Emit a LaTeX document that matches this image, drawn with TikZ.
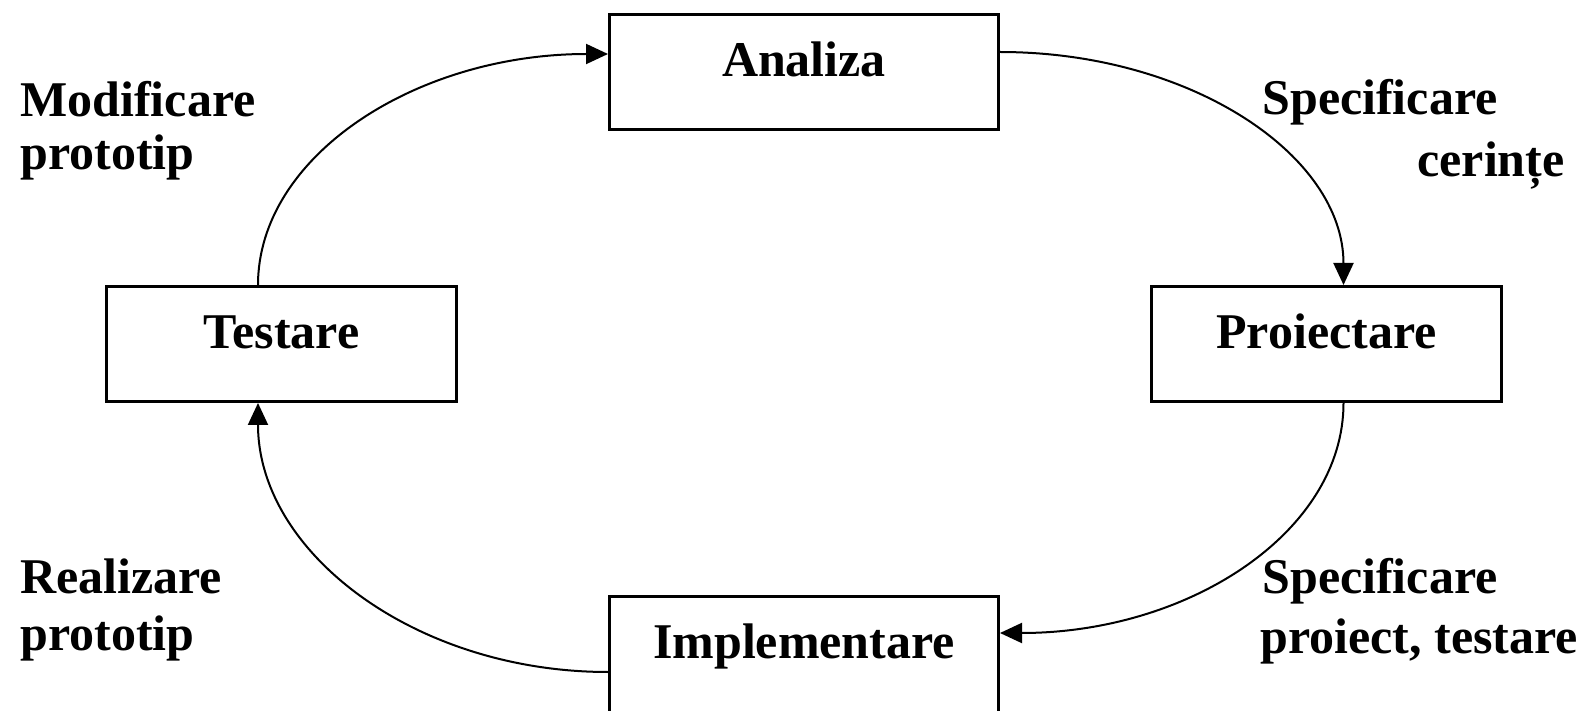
\documentclass[tikz,border=0pt]{standalone}
\usepackage{fontspec}
\setmainfont{Liberation Serif}
\usetikzlibrary{arrows.meta}

\begin{document}
\begin{tikzpicture}[x=0.5pt, y=-0.5pt,
  every node/.style={font=\fontsize{25}{30}\selectfont\bfseries},
  phase/.style={draw=black, line width=1.5pt, inner sep=0pt, anchor=north west,
    text height=31pt, text depth=26.5pt},
  widephase/.style={phase, minimum width=194.5pt},
  narrowphase/.style={phase, minimum width=175pt},
  flow/.style={line width=1pt, -{Triangle[length=11pt, width=10pt]}},
  note/.style={anchor=base west, inner sep=0pt}
]
  % canvas
  \useasboundingbox (0,0) rectangle (1592,711);
  \fill[white] (0,0) rectangle (1592,711);
  \clip (0,0) rectangle (1592,711);

  % the four phases of the cycle
  \node[widephase]   (ana) at (608,13)  {Analiza};
  \node[narrowphase] (tes) at (105,285) {Testare};
  \node[narrowphase] (pro) at (1150,285) {Proiectare};
  \node[widephase, text depth=33pt] (imp) at (608,595) {Implementare};

  % labels beside the transitions
  \node[note] (m1) at (20,117)   {Modificare};
  \node[note] (m2) at (20,170)   {prototip};
  \node[note] (s1) at (1262,115) {Specificare};
  \node[note] (s2) at (1417,177) {cerințe};
  \node[note] (r1) at (20,593)   {Realizare};
  \node[note] (r2) at (20,650)   {prototip};
  \node[note] (p1) at (1262,593) {Specificare};
  \node[note] (p2) at (1260,653) {proiect, testare};

  % attachment points on the boxes
  \coordinate (anaOut) at ([yshift=10pt]ana.east);
  \coordinate (anaIn)  at ([yshift=9pt]ana.west);
  \coordinate (proIn)  at ([xshift=8.5pt]pro.north);
  \coordinate (proOut) at ([xshift=8.5pt]pro.south);
  \coordinate (impIn)  at ([yshift=-19pt]imp.north east);
  \coordinate (impOut) at ([yshift=-38.5pt]imp.north west);
  \coordinate (tesIn)  at ([xshift=76.5pt]tes.south west);
  \coordinate (tesOut) at ([xshift=76.5pt]tes.north west);

  % cycle arrows
  \draw[flow] (anaOut) .. controls +(190,0) and +(0,-130) .. (proIn);
  \draw[flow] (proOut) .. controls +(0,129) and +(189,0) .. (impIn);
  \draw[flow] (impOut) .. controls +(-192,0) and +(0,150) .. (tesIn);
  \draw[flow] (tesOut) .. controls +(0,-129) and +(-192,0) .. (anaIn);
\end{tikzpicture}
\end{document}
